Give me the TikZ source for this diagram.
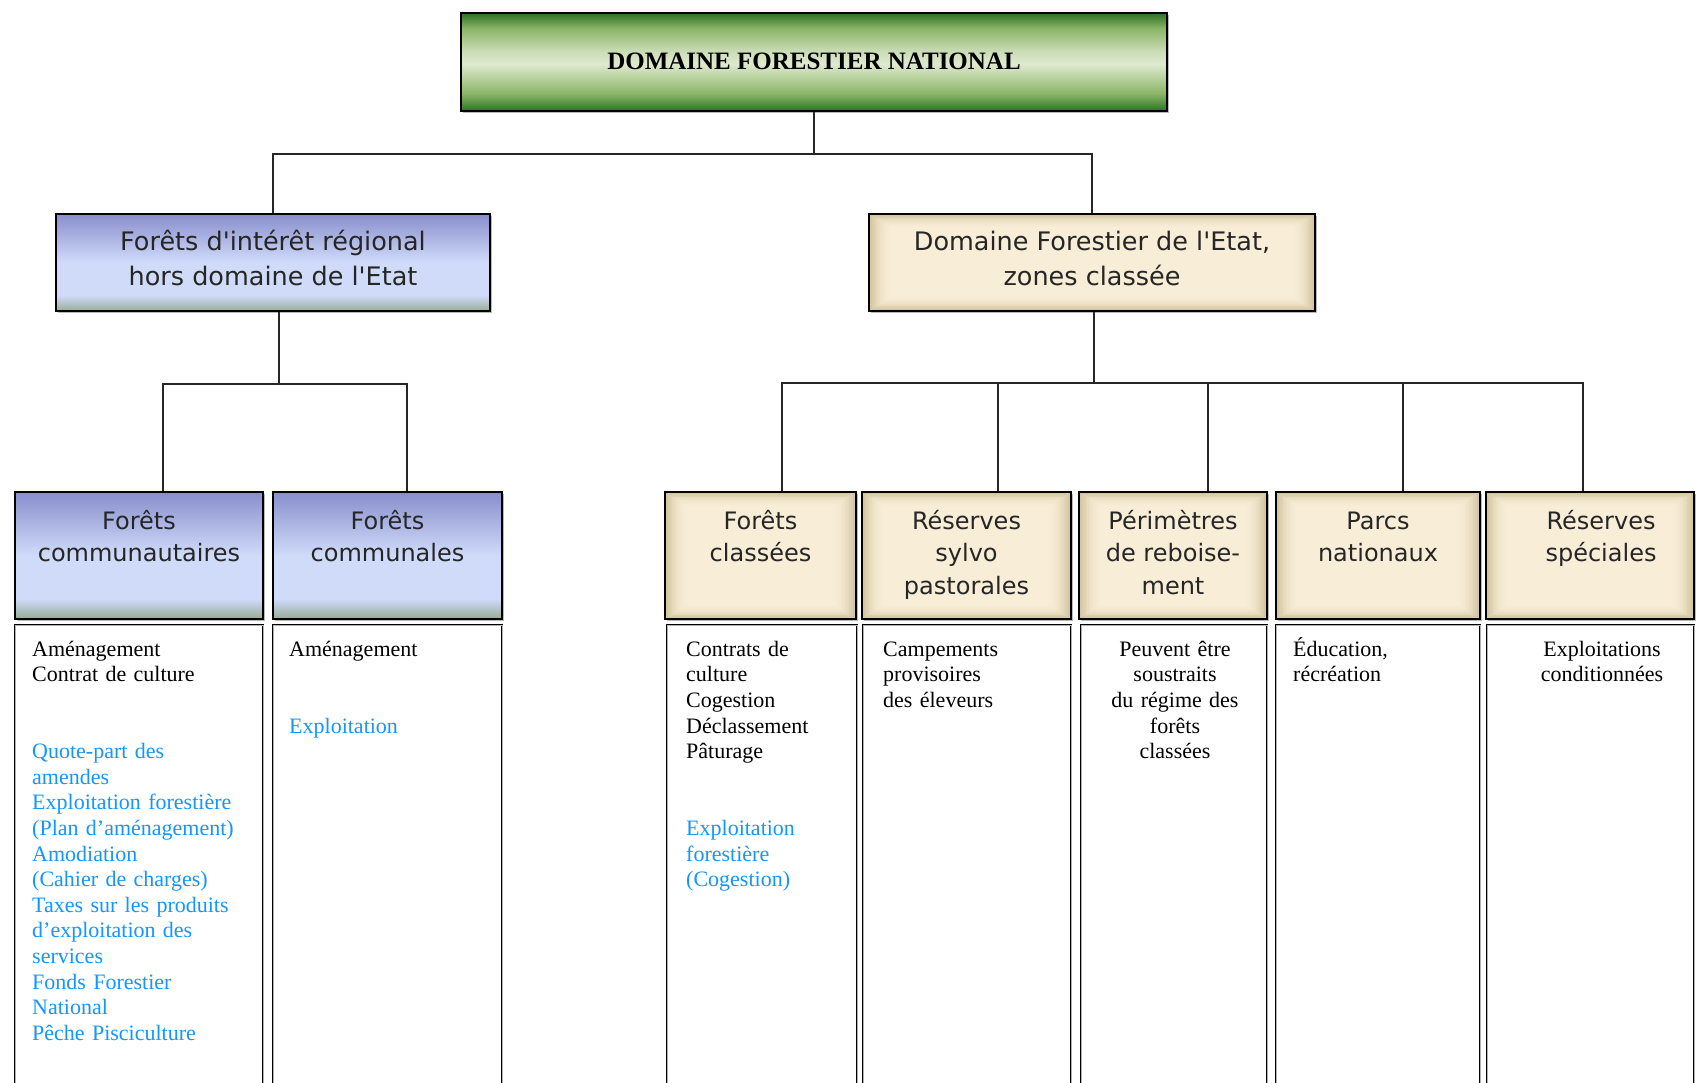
\documentclass[tikz,border=0pt]{standalone}
\usepackage{fontspec}
\setmainfont{Liberation Serif}
\newfontfamily\hsans{DejaVu Sans}
\usetikzlibrary{fit,calc,shadows}
\definecolor{bltop}{RGB}{136,142,204}
\definecolor{bllight}{RGB}{208,219,250}
\definecolor{blbot}{RGB}{150,172,150}
\definecolor{gdark}{RGB}{44,112,38}
\definecolor{gmid}{RGB}{140,182,104}
\definecolor{glight}{RGB}{222,234,206}
\definecolor{glmid}{RGB}{205,222,185}
\definecolor{tan0}{RGB}{208,194,156}
\definecolor{cream}{RGB}{248,237,214}
\definecolor{txtblue}{RGB}{20,150,255}
\pgfdeclareverticalshading{bluesh}{100bp}{color(0bp)=(blbot); color(25bp)=(blbot); color(33bp)=(bllight); color(50bp)=(bllight); color(75bp)=(bltop); color(100bp)=(bltop)}
\pgfdeclareverticalshading{greensh}{100bp}{color(0bp)=(gdark); color(25bp)=(gdark); color(34bp)=(gmid); color(49bp)=(glight); color(55bp)=(glmid); color(67bp)=(gmid); color(75bp)=(gdark); color(100bp)=(gdark)}
\begin{document}
\begin{tikzpicture}[x=1pt,y=-1pt,
  boxbase/.style={fit={#1}, inner sep=0pt, draw=black, line width=1.8pt,
    drop shadow={shadow xshift=2pt, shadow yshift=-2pt, fill=gray!55, opacity=1}},
  greenbox/.style={boxbase={#1}, shade, shading=greensh},
  bluebox/.style={boxbase={#1}, shade, shading=bluesh},
  beigebox/.style={boxbase={#1}, fill=tan0, path picture={
    \foreach \i in {1,...,16}{
      \pgfmathtruncatemacro\m{100*(1-(1-\i/16)^2)}
      \fill[cream!\m!tan0] ([shift={(\i*1.4pt,-\i*0.9pt)}]path picture bounding box.north west) rectangle ([shift={(-\i*1.4pt,\i*0.9pt)}]path picture bounding box.south east);
    }}},
  contentbox/.style={fit={#1}, inner sep=0pt, draw=black, line width=0.8pt, double=gray!60, double distance=0.6pt},
  conn/.style={draw=black!85, line width=1.4pt},
  midtxt/.style={font=\hsans\fontsize{25.5}{35}\selectfont, text=black!85, align=center, inner sep=0pt, anchor=north},
  hdrtxt/.style={font=\hsans\fontsize{24}{32.7}\selectfont, text=black!85, align=center, inner sep=0pt, anchor=north},
  bodytxt/.style={font=\fontsize{22}{25.6}\selectfont, inner sep=0pt, anchor=north west, align=left, text width=#1},
  bodyc/.style={font=\fontsize{22}{25.6}\selectfont, inner sep=0pt, anchor=north, align=center, text width=#1}
]
\useasboundingbox (0,0) rectangle (1697,1083);
\clip (0,0) rectangle (1697,1083);
\fill[white] (0,0) rectangle (1697,1083);

% boxes
\node[greenbox={(461,13) (1167,111)}] (top) {};
\node[bluebox={(56,214) (490,311)}] (fir) {};
\node[beigebox={(869,214) (1315,311)}] (dfe) {};

\node[bluebox={(15,492) (263,619)}] (fcom) {};
\node[bluebox={(273,492) (502,619)}] (fcnl) {};
\node[beigebox={(665,492) (856,619)}] (fcl) {};
\node[beigebox={(862,492) (1071,619)}] (rsp) {};
\node[beigebox={(1079,492) (1267,619)}] (per) {};
\node[beigebox={(1276,492) (1480,619)}] (parc) {};
\node[beigebox={(1486,492) (1694,619)}] (rsps) {};

\node[contentbox={(15,625) (263,1100)}] (c1) {};
\node[contentbox={(273,625) (502,1100)}] (c2) {};
\node[contentbox={(667,625) (857,1100)}] (c3) {};
\node[contentbox={(863,625) (1071,1100)}] (c4) {};
\node[contentbox={(1081,625) (1267,1100)}] (c5) {};
\node[contentbox={(1276,625) (1480,1100)}] (c6) {};
\node[contentbox={(1487,625) (1694,1100)}] (c7) {};

% connectors
\coordinate (tj) at (814,154);
\coordinate (lb) at (279,384);
\coordinate (rb) at (1094,383);
\draw[conn] (top.south) -- (tj);
\draw[conn] (fir.north) |- (tj) -| (dfe.north);
\draw[conn] (fir.south -| lb) -- (lb);
\draw[conn] ($(fcom.north)+(24,0)$) |- (lb) -| ($(fcnl.north)+(19.5,0)$);
\draw[conn] (dfe.south -| rb) -- (rb);
\draw[conn] ($(fcl.north)+(21.5,0)$) |- (rb) -| ($(rsps.north)+(-7,0)$);
\foreach \n/\dx in {rsp/31.5, per/35, parc/25}
  \draw[conn] ($(\n.north)+(\dx,0)$) |- (rb);

% titles
\node[font=\fontsize{25}{30}\selectfont\bfseries, anchor=base, inner sep=0pt] (ttop) at (814,70) {DOMAINE FORESTIER NATIONAL};
\node[midtxt] (tfir) at (273,227) {\rule{0pt}{23pt}Forêts d\textquotesingle intérêt régional\\hors domaine de l\textquotesingle Etat};
\node[midtxt] (tdfe) at (1092,227) {\rule{0pt}{23pt}Domaine Forestier de l\textquotesingle Etat,\\zones classée};

\node[hdrtxt] (tfcom) at (139,507) {\rule{0pt}{22pt}Forêts\\communautaires};
\node[hdrtxt] (tfcnl) at (387.5,507) {\rule{0pt}{22pt}Forêts\\communales};
\node[hdrtxt] (tfcl) at (760.5,507) {\rule{0pt}{22pt}Forêts\\classées};
\node[hdrtxt] (trsp) at (966.5,507) {\rule{0pt}{22pt}Réserves\\sylvo\\pastorales};
\node[hdrtxt] (tper) at (1173,507) {\rule{0pt}{22pt}Périmètres\\de reboise-\\ment};
\node[hdrtxt] (tparc) at (1378,507) {\rule{0pt}{22pt}Parcs\\nationaux};
\node[hdrtxt] (trsps) at (1601,507) {\rule{0pt}{22pt}Réserves\\spéciales};

% contents
\node[bodytxt=226pt] (b1) at (32,635) {\rule{0pt}{21pt}Aménagement\\Contrat de culture\\[51.2pt]\color{txtblue}Quote-part des\\amendes\\Exploitation forestière\\(Plan d’aménagement)\\Amodiation\\(Cahier de charges)\\Taxes sur les produits\\d’exploitation des\\services\\Fonds Forestier\\National\\Pêche Pisciculture};
\node[bodytxt=200pt] (b2) at (289,635) {\rule{0pt}{21pt}Aménagement\\[51.2pt]\color{txtblue}Exploitation};
\node[bodytxt=165pt] (b3) at (686,635) {\rule{0pt}{21pt}Contrats de\\culture\\Cogestion\\Déclassement\\Pâturage\\[51.2pt]\color{txtblue}Exploitation\\forestière\\(Cogestion)};
\node[bodytxt=180pt] (b4) at (883,635) {\rule{0pt}{21pt}Campements\\provisoires\\des éleveurs};
\node[bodyc=180pt] (b5) at (1175,635) {\rule{0pt}{21pt}Peuvent être\\soustraits\\du régime des\\forêts\\classées};
\node[bodytxt=180pt] (b6) at (1293,635) {\rule{0pt}{21pt}Éducation,\\récréation};
\node[bodyc=190pt] (b7) at (1602,635) {\rule{0pt}{21pt}Exploitations\\conditionnées};
\end{tikzpicture}
\end{document}
